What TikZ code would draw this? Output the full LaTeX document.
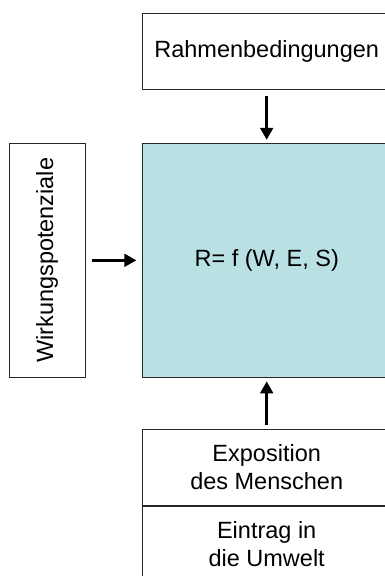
\documentclass[tikz,border=0pt]{standalone}
\usepackage{fontspec}
\setmainfont{Liberation Sans}
\usetikzlibrary{arrows.meta,positioning}
\definecolor{modellblau}{RGB}{185,224,227}
\begin{document}
\begin{tikzpicture}[
    x=1pt,y=-1pt,
    kasten/.style={draw=black!85, line width=0.9pt, inner sep=0pt, align=center,
        minimum width=248.7pt, minimum height=76pt,
        font=\fontsize{23.5}{28.2}\selectfont},
    pfeil/.style={line width=3.4pt, -{Triangle[length=12pt,width=12.5pt]}}
    ]
	\useasboundingbox (0,0) rectangle (385,576);
	\node [kasten] (rahmen) at (266.7,51.3) {Rahmenbedingungen};
	\node [kasten, fill=modellblau, minimum height=234pt] (modell) at (266.7,260.3) {R= f (W, E, S)};
	\node [kasten, rotate=90, minimum width=234pt, minimum height=76pt] (wirkung) at (47,260.3) {Wirkungspotenziale};
	\node [kasten, minimum height=75.7pt] (exposition) at (266.7,467.2) {Exposition\\des Menschen};
	\node [kasten, below=0pt of exposition] (eintrag) {Eintrag in\\die Umwelt};
	\draw [pfeil, shorten <=6pt, shorten >=3pt] (rahmen) -- (modell);
	\draw [pfeil, shorten <=6.5pt, shorten >=5.5pt] (wirkung.south) -- (modell.west |- wirkung.south);
	\draw [pfeil, shorten <=3.5pt, shorten >=3.5pt] (exposition) -- (modell);
  \end{tikzpicture}
\end{document}
